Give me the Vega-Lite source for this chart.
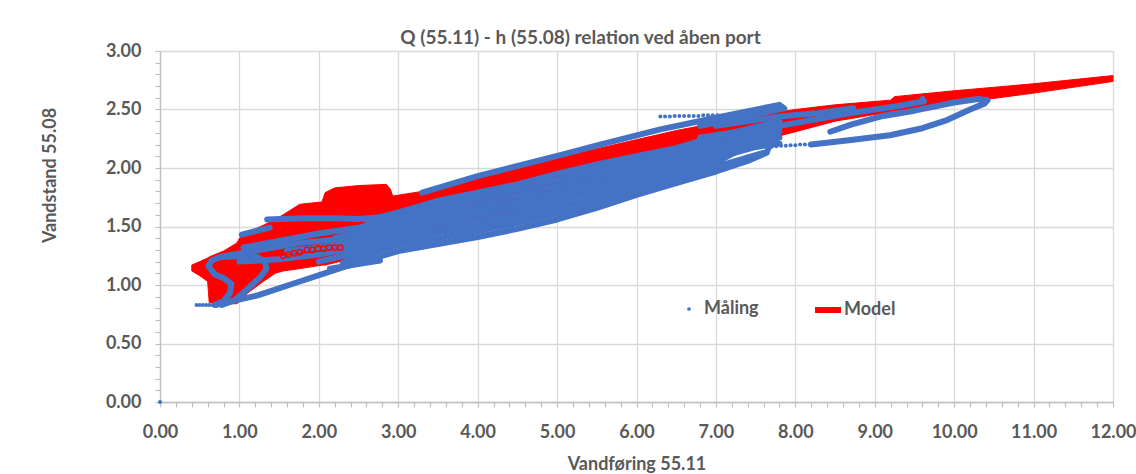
{
  "$schema": "https://vega.github.io/schema/vega-lite/v6.json",
  "width": 953,
  "height": 351,
  "autosize": {"type": "none"},
  "padding": {"left": 160, "top": 51, "right": 23, "bottom": 72},
  "background": "white",
  "title": {"text": "Q (55.11) - h (55.08) relation ved åben port", "font": "Lato", "fontSize": 19, "fontWeight": "bold", "color": "#595959", "anchor": "middle", "dx": -56, "offset": 10, "dy": 16},
  "datasets": {
    "model": [
      {"s": "Model", "x": 0.40, "top": 1.17, "bot": 1.12},
      {"s": "Model", "x": 0.50, "top": 1.20, "bot": 1.08},
      {"s": "Model", "x": 0.60, "top": 1.23, "bot": 1.03},
      {"s": "Model", "x": 0.62, "top": 1.24, "bot": 0.85},
      {"s": "Model", "x": 0.80, "top": 1.29, "bot": 0.84},
      {"s": "Model", "x": 0.97, "top": 1.36, "bot": 0.84},
      {"s": "Model", "x": 1.00, "top": 1.40, "bot": 0.86},
      {"s": "Model", "x": 1.05, "top": 1.43, "bot": 0.89},
      {"s": "Model", "x": 1.10, "top": 1.45, "bot": 0.93},
      {"s": "Model", "x": 1.30, "top": 1.51, "bot": 1.03},
      {"s": "Model", "x": 1.45, "top": 1.56, "bot": 1.10},
      {"s": "Model", "x": 1.55, "top": 1.60, "bot": 1.12},
      {"s": "Model", "x": 1.76, "top": 1.69, "bot": 1.14},
      {"s": "Model", "x": 2.04, "top": 1.71, "bot": 1.17},
      {"s": "Model", "x": 2.08, "top": 1.79, "bot": 1.17},
      {"s": "Model", "x": 2.20, "top": 1.83, "bot": 1.19},
      {"s": "Model", "x": 2.50, "top": 1.85, "bot": 1.24},
      {"s": "Model", "x": 2.85, "top": 1.86, "bot": 1.31},
      {"s": "Model", "x": 2.90, "top": 1.82, "bot": 1.32},
      {"s": "Model", "x": 2.93, "top": 1.76, "bot": 1.33},
      {"s": "Model", "x": 3.30, "top": 1.80, "bot": 1.41},
      {"s": "Model", "x": 4.00, "top": 1.92, "bot": 1.55},
      {"s": "Model", "x": 5.04, "top": 2.09, "bot": 1.73},
      {"s": "Model", "x": 5.54, "top": 2.17, "bot": 1.83},
      {"s": "Model", "x": 6.50, "top": 2.32, "bot": 2.02},
      {"s": "Model", "x": 7.50, "top": 2.45, "bot": 2.22},
      {"s": "Model", "x": 8.00, "top": 2.50, "bot": 2.31},
      {"s": "Model", "x": 8.50, "top": 2.54, "bot": 2.40},
      {"s": "Model", "x": 9.20, "top": 2.58, "bot": 2.48},
      {"s": "Model", "x": 9.25, "top": 2.61, "bot": 2.49},
      {"s": "Model", "x": 10.0, "top": 2.66, "bot": 2.55},
      {"s": "Model", "x": 11.0, "top": 2.72, "bot": 2.64},
      {"s": "Model", "x": 12.0, "top": 2.79, "bot": 2.74}
    ],
    "meas": [
      {"p": "loop", "o": 1, "x": 0.69, "y": 0.83},
      {"p": "loop", "o": 2, "x": 0.80, "y": 0.86},
      {"p": "loop", "o": 3, "x": 0.88, "y": 0.93},
      {"p": "loop", "o": 4, "x": 0.90, "y": 1.01},
      {"p": "loop", "o": 5, "x": 0.80, "y": 1.06},
      {"p": "loop", "o": 6, "x": 0.69, "y": 1.09},
      {"p": "loop", "o": 7, "x": 0.61, "y": 1.16},
      {"p": "loop", "o": 8, "x": 0.65, "y": 1.21},
      {"p": "loop", "o": 9, "x": 0.76, "y": 1.24},
      {"p": "loop", "o": 10, "x": 1.00, "y": 1.245},
      {"p": "loop", "o": 11, "x": 1.22, "y": 1.24},
      {"p": "loop", "o": 12, "x": 1.32, "y": 1.20},
      {"p": "loop", "o": 13, "x": 1.34, "y": 1.14},
      {"p": "loop", "o": 14, "x": 1.28, "y": 1.08},
      {"p": "loop", "o": 15, "x": 1.22, "y": 1.04},
      {"p": "loop", "o": 16, "x": 1.09, "y": 0.96},
      {"p": "loop", "o": 17, "x": 0.94, "y": 0.87},
      {"p": "loop", "o": 18, "x": 0.78, "y": 0.83},

      {"p": "b", "o": 1, "x": 0.71, "y": 0.83},
      {"p": "b", "o": 2, "x": 1.22, "y": 0.91},
      {"p": "b", "o": 3, "x": 1.76, "y": 1.03},
      {"p": "b", "o": 4, "x": 2.30, "y": 1.15},
      {"p": "b", "o": 5, "x": 3.00, "y": 1.29},
      {"p": "b", "o": 6, "x": 3.50, "y": 1.35},
      {"p": "b", "o": 7, "x": 4.00, "y": 1.41},
      {"p": "b", "o": 8, "x": 4.50, "y": 1.48},
      {"p": "b", "o": 9, "x": 5.00, "y": 1.56},
      {"p": "b", "o": 10, "x": 5.50, "y": 1.66},
      {"p": "b", "o": 11, "x": 6.00, "y": 1.77},
      {"p": "b", "o": 12, "x": 6.50, "y": 1.87},
      {"p": "b", "o": 13, "x": 7.00, "y": 1.97},
      {"p": "b", "o": 14, "x": 7.40, "y": 2.06},
      {"p": "b", "o": 15, "x": 7.64, "y": 2.13},
      {"p": "b", "o": 16, "x": 7.66, "y": 2.17},

      {"p": "r", "o": 1, "x": 8.20, "y": 2.20},
      {"p": "r", "o": 2, "x": 8.70, "y": 2.24},
      {"p": "r", "o": 3, "x": 9.19, "y": 2.28},
      {"p": "r", "o": 4, "x": 9.60, "y": 2.34},
      {"p": "r", "o": 5, "x": 9.91, "y": 2.41},
      {"p": "r", "o": 6, "x": 10.20, "y": 2.50},
      {"p": "r", "o": 7, "x": 10.38, "y": 2.55},
      {"p": "r", "o": 8, "x": 10.42, "y": 2.58},
      {"p": "r", "o": 9, "x": 10.30, "y": 2.59},
      {"p": "r", "o": 10, "x": 10.00, "y": 2.56},
      {"p": "r", "o": 11, "x": 9.50, "y": 2.49},
      {"p": "r", "o": 12, "x": 9.07, "y": 2.44},
      {"p": "r", "o": 13, "x": 8.70, "y": 2.37},
      {"p": "r", "o": 14, "x": 8.44, "y": 2.31},

      {"p": "s1", "o": 1, "x": 2.14, "y": 1.14},
      {"p": "s1", "o": 2, "x": 2.77, "y": 1.21},

      {"p": "f12", "o": 1, "x": 2.30, "y": 1.19},
      {"p": "f12", "o": 2, "x": 2.50, "y": 1.24},
      {"p": "f12", "o": 3, "x": 3.00, "y": 1.34},
      {"p": "f12", "o": 4, "x": 3.50, "y": 1.40},
      {"p": "f12", "o": 5, "x": 4.00, "y": 1.46},
      {"p": "f12", "o": 6, "x": 4.50, "y": 1.53},
      {"p": "f12", "o": 7, "x": 5.00, "y": 1.61},
      {"p": "f12", "o": 8, "x": 5.50, "y": 1.70},
      {"p": "f12", "o": 9, "x": 6.00, "y": 1.81},
      {"p": "f12", "o": 10, "x": 6.50, "y": 1.91},
      {"p": "f12", "o": 11, "x": 7.00, "y": 2.01},
      {"p": "f12", "o": 12, "x": 7.50, "y": 2.11},
      {"p": "f12", "o": 13, "x": 7.60, "y": 2.13},

      {"p": "f25", "o": 1, "x": 2.00, "y": 1.20},
      {"p": "f25", "o": 2, "x": 2.50, "y": 1.28},
      {"p": "f25", "o": 3, "x": 3.00, "y": 1.38},
      {"p": "f25", "o": 4, "x": 3.50, "y": 1.45},
      {"p": "f25", "o": 5, "x": 4.00, "y": 1.505},
      {"p": "f25", "o": 6, "x": 4.50, "y": 1.575},
      {"p": "f25", "o": 7, "x": 5.00, "y": 1.66},
      {"p": "f25", "o": 8, "x": 5.50, "y": 1.75},
      {"p": "f25", "o": 9, "x": 6.00, "y": 1.85},
      {"p": "f25", "o": 10, "x": 6.50, "y": 1.945},
      {"p": "f25", "o": 11, "x": 7.00, "y": 2.045},
      {"p": "f25", "o": 12, "x": 7.34, "y": 2.17},

      {"p": "f38", "o": 1, "x": 1.00, "y": 1.20},
      {"p": "f38", "o": 2, "x": 1.50, "y": 1.22},
      {"p": "f38", "o": 3, "x": 2.00, "y": 1.26},
      {"p": "f38", "o": 4, "x": 2.50, "y": 1.325},
      {"p": "f38", "o": 5, "x": 3.00, "y": 1.42},
      {"p": "f38", "o": 6, "x": 3.50, "y": 1.50},
      {"p": "f38", "o": 7, "x": 4.00, "y": 1.55},
      {"p": "f38", "o": 8, "x": 4.50, "y": 1.62},
      {"p": "f38", "o": 9, "x": 5.00, "y": 1.71},
      {"p": "f38", "o": 10, "x": 5.50, "y": 1.80},
      {"p": "f38", "o": 11, "x": 6.00, "y": 1.895},
      {"p": "f38", "o": 12, "x": 6.50, "y": 1.985},
      {"p": "f38", "o": 13, "x": 7.00, "y": 2.085},
      {"p": "f38", "o": 14, "x": 7.50, "y": 2.18},
      {"p": "f38", "o": 15, "x": 7.80, "y": 2.21},

      {"p": "f50", "o": 1, "x": 1.60, "y": 1.29},
      {"p": "f50", "o": 2, "x": 2.00, "y": 1.32},
      {"p": "f50", "o": 3, "x": 2.50, "y": 1.365},
      {"p": "f50", "o": 4, "x": 3.00, "y": 1.46},
      {"p": "f50", "o": 5, "x": 3.50, "y": 1.54},
      {"p": "f50", "o": 6, "x": 4.00, "y": 1.60},
      {"p": "f50", "o": 7, "x": 4.50, "y": 1.67},
      {"p": "f50", "o": 8, "x": 5.00, "y": 1.755},
      {"p": "f50", "o": 9, "x": 5.50, "y": 1.845},
      {"p": "f50", "o": 10, "x": 6.00, "y": 1.935},
      {"p": "f50", "o": 11, "x": 6.50, "y": 2.02},
      {"p": "f50", "o": 12, "x": 7.00, "y": 2.12},
      {"p": "f50", "o": 13, "x": 7.50, "y": 2.215},
      {"p": "f50", "o": 14, "x": 7.80, "y": 2.26},

      {"p": "f62", "o": 1, "x": 0.76, "y": 1.24},
      {"p": "f62", "o": 2, "x": 1.00, "y": 1.27},
      {"p": "f62", "o": 3, "x": 1.76, "y": 1.36},
      {"p": "f62", "o": 4, "x": 2.50, "y": 1.405},
      {"p": "f62", "o": 5, "x": 3.00, "y": 1.50},
      {"p": "f62", "o": 6, "x": 3.50, "y": 1.585},
      {"p": "f62", "o": 7, "x": 4.00, "y": 1.645},
      {"p": "f62", "o": 8, "x": 4.50, "y": 1.715},
      {"p": "f62", "o": 9, "x": 5.00, "y": 1.80},
      {"p": "f62", "o": 10, "x": 5.50, "y": 1.89},
      {"p": "f62", "o": 11, "x": 6.00, "y": 1.975},
      {"p": "f62", "o": 12, "x": 6.50, "y": 2.055},
      {"p": "f62", "o": 13, "x": 7.00, "y": 2.155},
      {"p": "f62", "o": 14, "x": 7.50, "y": 2.25},
      {"p": "f62", "o": 15, "x": 7.80, "y": 2.31},

      {"p": "f75", "o": 1, "x": 2.20, "y": 1.40},
      {"p": "f75", "o": 2, "x": 2.50, "y": 1.45},
      {"p": "f75", "o": 3, "x": 3.00, "y": 1.54},
      {"p": "f75", "o": 4, "x": 3.50, "y": 1.63},
      {"p": "f75", "o": 5, "x": 4.00, "y": 1.695},
      {"p": "f75", "o": 6, "x": 4.50, "y": 1.765},
      {"p": "f75", "o": 7, "x": 5.00, "y": 1.85},
      {"p": "f75", "o": 8, "x": 5.50, "y": 1.94},
      {"p": "f75", "o": 9, "x": 6.00, "y": 2.02},
      {"p": "f75", "o": 10, "x": 6.50, "y": 2.095},
      {"p": "f75", "o": 11, "x": 7.00, "y": 2.195},
      {"p": "f75", "o": 12, "x": 7.50, "y": 2.28},
      {"p": "f75", "o": 13, "x": 7.80, "y": 2.34},

      {"p": "f88", "o": 1, "x": 1.05, "y": 1.32},
      {"p": "f88", "o": 2, "x": 2.00, "y": 1.44},
      {"p": "f88", "o": 3, "x": 2.50, "y": 1.49},
      {"p": "f88", "o": 4, "x": 3.00, "y": 1.58},
      {"p": "f88", "o": 5, "x": 3.50, "y": 1.675},
      {"p": "f88", "o": 6, "x": 4.00, "y": 1.745},
      {"p": "f88", "o": 7, "x": 4.50, "y": 1.815},
      {"p": "f88", "o": 8, "x": 5.00, "y": 1.90},
      {"p": "f88", "o": 9, "x": 5.50, "y": 1.985},
      {"p": "f88", "o": 10, "x": 6.00, "y": 2.06},
      {"p": "f88", "o": 11, "x": 6.50, "y": 2.135},
      {"p": "f88", "o": 12, "x": 7.00, "y": 2.235},
      {"p": "f88", "o": 13, "x": 7.50, "y": 2.32},
      {"p": "f88", "o": 14, "x": 7.80, "y": 2.37},

      {"p": "f100", "o": 1, "x": 2.60, "y": 1.55},
      {"p": "f100", "o": 2, "x": 3.00, "y": 1.62},
      {"p": "f100", "o": 3, "x": 3.50, "y": 1.72},
      {"p": "f100", "o": 4, "x": 4.00, "y": 1.79},
      {"p": "f100", "o": 5, "x": 4.50, "y": 1.86},
      {"p": "f100", "o": 6, "x": 5.00, "y": 1.95},
      {"p": "f100", "o": 7, "x": 5.50, "y": 2.03},
      {"p": "f100", "o": 8, "x": 6.00, "y": 2.10},
      {"p": "f100", "o": 9, "x": 6.50, "y": 2.17},
      {"p": "f100", "o": 10, "x": 7.00, "y": 2.27},
      {"p": "f100", "o": 11, "x": 7.50, "y": 2.35},
      {"p": "f100", "o": 12, "x": 7.80, "y": 2.40},

      {"p": "a1", "o": 1, "x": 1.03, "y": 1.43},
      {"p": "a1", "o": 2, "x": 1.20, "y": 1.46},
      {"p": "a1", "o": 3, "x": 1.38, "y": 1.49},

      {"p": "a2", "o": 1, "x": 1.35, "y": 1.56},
      {"p": "a2", "o": 2, "x": 1.80, "y": 1.57},
      {"p": "a2", "o": 3, "x": 2.20, "y": 1.57},
      {"p": "a2", "o": 4, "x": 2.50, "y": 1.565},
      {"p": "a2", "o": 5, "x": 2.80, "y": 1.58},
      {"p": "a2", "o": 6, "x": 3.00, "y": 1.60},

      {"p": "top", "o": 1, "x": 3.30, "y": 1.79},
      {"p": "top", "o": 2, "x": 4.00, "y": 1.93},
      {"p": "top", "o": 3, "x": 5.04, "y": 2.11},
      {"p": "top", "o": 4, "x": 5.54, "y": 2.20},
      {"p": "top", "o": 5, "x": 6.30, "y": 2.33},
      {"p": "top", "o": 6, "x": 7.00, "y": 2.43},
      {"p": "top", "o": 7, "x": 7.80, "y": 2.54},
      {"p": "top", "o": 8, "x": 7.86, "y": 2.51},
      {"p": "top", "o": 9, "x": 7.50, "y": 2.46},
      {"p": "top", "o": 10, "x": 7.09, "y": 2.40},
      {"p": "top", "o": 11, "x": 6.80, "y": 2.36},

      {"p": "B4", "o": 1, "x": 6.80, "y": 2.26},
      {"p": "B4", "o": 2, "x": 7.30, "y": 2.31},
      {"p": "B4", "o": 3, "x": 7.80, "y": 2.36},
      {"p": "B4", "o": 4, "x": 8.70, "y": 2.47},
      {"p": "B4", "o": 5, "x": 9.30, "y": 2.53},
      {"p": "B4", "o": 6, "x": 9.62, "y": 2.57},
      {"p": "B4", "o": 7, "x": 9.60, "y": 2.59},

      {"p": "B5", "o": 1, "x": 7.00, "y": 2.36},
      {"p": "B5", "o": 2, "x": 7.50, "y": 2.41},
      {"p": "B5", "o": 3, "x": 7.80, "y": 2.44},
      {"p": "B5", "o": 4, "x": 8.30, "y": 2.47},
      {"p": "B5", "o": 5, "x": 8.73, "y": 2.51}
    ],
    "dots": [
      {"s": "Måling", "x": 0, "y": 0},
      {"s": "Måling", "x": 0.46, "y": 0.83},
      {"s": "Måling", "x": 0.50, "y": 0.83},
      {"s": "Måling", "x": 0.54, "y": 0.83},
      {"s": "Måling", "x": 0.58, "y": 0.83},
      {"s": "Måling", "x": 0.62, "y": 0.83},
      {"s": "Måling", "x": 0.66, "y": 0.83},
      {"s": "Måling", "x": 7.70, "y": 2.18},
      {"s": "Måling", "x": 7.76, "y": 2.185},
      {"s": "Måling", "x": 7.82, "y": 2.19},
      {"s": "Måling", "x": 7.88, "y": 2.19},
      {"s": "Måling", "x": 7.94, "y": 2.195},
      {"s": "Måling", "x": 8.00, "y": 2.195},
      {"s": "Måling", "x": 8.06, "y": 2.20},
      {"s": "Måling", "x": 8.12, "y": 2.20},
      {"s": "Måling", "x": 8.18, "y": 2.20},
      {"s": "Måling", "x": 6.30, "y": 2.44},
      {"s": "Måling", "x": 6.36, "y": 2.44},
      {"s": "Måling", "x": 6.42, "y": 2.44},
      {"s": "Måling", "x": 6.48, "y": 2.445},
      {"s": "Måling", "x": 6.54, "y": 2.445},
      {"s": "Måling", "x": 6.60, "y": 2.445},
      {"s": "Måling", "x": 6.66, "y": 2.445},
      {"s": "Måling", "x": 6.72, "y": 2.445},
      {"s": "Måling", "x": 6.78, "y": 2.445},
      {"s": "Måling", "x": 6.84, "y": 2.45},
      {"s": "Måling", "x": 6.90, "y": 2.45},
      {"s": "Måling", "x": 6.96, "y": 2.45},
      {"s": "Måling", "x": 7.02, "y": 2.45}
    ],
    "rings": [
      {"x": 1.55, "y": 1.25}, {"x": 1.62, "y": 1.26}, {"x": 1.69, "y": 1.27},
      {"x": 1.76, "y": 1.28}, {"x": 1.85, "y": 1.30}, {"x": 1.92, "y": 1.30},
      {"x": 1.99, "y": 1.31}, {"x": 2.06, "y": 1.31}, {"x": 2.13, "y": 1.32},
      {"x": 2.20, "y": 1.32}, {"x": 2.27, "y": 1.32}
    ]
  },
  "encoding": {
    "x": {"field": "x", "type": "quantitative", "title": "Vandføring 55.11",
      "scale": {"domain": [0, 12], "nice": false, "zero": false},
      "axis": {
        "values": [0, 0.2, 0.4, 0.6, 0.8, 1, 1.2, 1.4, 1.6, 1.8, 2, 2.2, 2.4, 2.6, 2.8, 3, 3.2, 3.4, 3.6, 3.8, 4, 4.2, 4.4, 4.6, 4.8, 5, 5.2, 5.4, 5.6, 5.8, 6, 6.2, 6.4, 6.6, 6.8, 7, 7.2, 7.4, 7.6, 7.8, 8, 8.2, 8.4, 8.6, 8.8, 9, 9.2, 9.4, 9.6, 9.8, 10, 10.2, 10.4, 10.6, 10.8, 11, 11.2, 11.4, 11.6, 11.8, 12],
        "labelExpr": "datum.value % 1 === 0 ? format(datum.value, '.2f') : ''",
        "gridOpacity": {"condition": {"test": "datum.value % 1 === 0", "value": 1}, "value": 0},
        "labelPadding": 16,
        "titlePadding": 14
      }
    },
    "y": {"field": "y", "type": "quantitative", "title": "Vandstand 55.08",
      "scale": {"domain": [0, 3], "nice": false, "zero": false},
      "axis": {
        "values": [0, 0.1, 0.2, 0.3, 0.4, 0.5, 0.6, 0.7, 0.8, 0.9, 1, 1.1, 1.2, 1.3, 1.4, 1.5, 1.6, 1.7, 1.8, 1.9, 2, 2.1, 2.2, 2.3, 2.4, 2.5, 2.6, 2.7, 2.8, 2.9, 3],
        "labelExpr": "(datum.value * 2) % 1 === 0 ? format(datum.value, '.2f') : ''",
        "gridOpacity": {"condition": {"test": "(datum.value * 2) % 1 === 0", "value": 1}, "value": 0},
        "labelPadding": 14,
        "titlePadding": 46,
        "titleY": 124
      }
    }
  },
  "layer": [
    {
      "data": {"name": "model"},
      "mark": {"type": "area", "fill": "#FF0000", "strokeWidth": 1, "opacity": 1},
      "encoding": {
        "y": {"field": "top", "type": "quantitative"},
        "y2": {"field": "bot"},
        "stroke": {"field": "s", "type": "nominal",
          "scale": {"domain": ["Model"], "range": ["#FF0000"]},
          "legend": {
            "orient": "none", "legendX": 652, "legendY": 243, "direction": "horizontal",
            "title": null, "padding": 0, "symbolType": "stroke", "symbolSize": 676,
            "symbolStrokeWidth": 6, "symbolStrokeColor": "#FF0000", "symbolFillColor": "transparent",
            "labelOffset": 0,
            "labelFont": "Lato", "labelFontSize": 18, "labelFontWeight": "bold", "labelColor": "#595959"
          }
        }
      }
    },
    {
      "data": {"name": "meas"},
      "mark": {"type": "line", "color": "#4472C4", "strokeWidth": 6, "strokeCap": "round", "strokeJoin": "round"},
      "encoding": {
        "detail": {"field": "p", "type": "nominal"},
        "order": {"field": "o", "type": "quantitative"}
      }
    },
    {
      "data": {"name": "dots"},
      "mark": {"type": "point", "filled": true, "size": 16, "opacity": 1, "shape": "circle"},
      "encoding": {
        "fill": {"field": "s", "type": "nominal",
          "scale": {"domain": ["Måling"], "range": ["#4472C4"]},
          "legend": {
            "orient": "none", "legendX": 520, "legendY": 249, "direction": "horizontal",
            "title": null, "padding": 0, "symbolType": "circle", "symbolSize": 14,
            "symbolFillColor": "#4472C4", "symbolStrokeWidth": 0,
            "labelOffset": 6,
            "labelFont": "Lato", "labelFontSize": 18, "labelFontWeight": "bold", "labelColor": "#595959"
          }
        }
      }
    },
    {
      "data": {"name": "rings"},
      "mark": {"type": "point", "filled": false, "size": 30, "stroke": "#FF0000", "strokeWidth": 1.3, "opacity": 1},
      "encoding": {}
    }
  ],
  "config": {
    "view": {"stroke": null},
    "axis": {
      "labelFont": "Lato", "labelFontSize": 18, "labelFontWeight": "bold", "labelColor": "#595959",
      "titleFont": "Lato", "titleFontSize": 18, "titleFontWeight": "bold", "titleColor": "#595959",
      "gridColor": "#d9d9d9", "gridWidth": 1.3, "domainColor": "#bfbfbf", "domainWidth": 1.3,
      "tickColor": "#bfbfbf", "tickSize": 5, "tickWidth": 1.2,
      "labelOverlap": false, "labelFlush": false, "labelBound": false
    }
  }
}
